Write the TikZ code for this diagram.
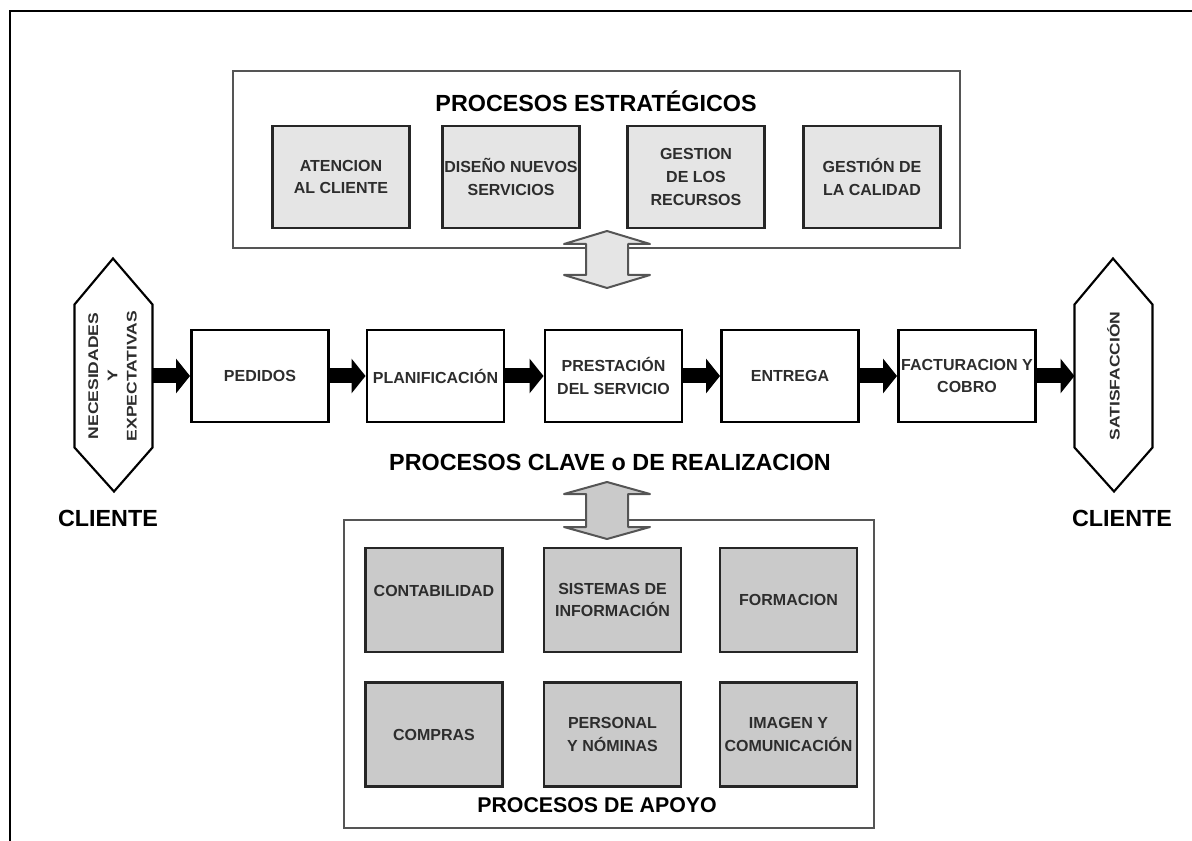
\documentclass[tikz,border=0pt]{standalone}
\usepackage{fontspec}
\setmainfont{Liberation Sans}
\usetikzlibrary{arrows.meta}

\definecolor{textogris}{RGB}{45,45,45}
\definecolor{grisclaro}{RGB}{229,229,229}
\definecolor{grismedio}{RGB}{202,202,202}
\definecolor{bordegris}{RGB}{85,85,85}

\tikzset{every picture/.style={line width=0.75pt}}

\begin{document}
\begin{tikzpicture}[x=0.75pt,y=0.75pt,yscale=-1,xscale=1,
  proceso/.style={draw, line width=2.2pt, minimum width=137*0.75pt, minimum height=92*0.75pt,
    inner sep=1pt, align=center, text=textogris, font=\fontsize{12}{17}\selectfont\bfseries},
  estrategico/.style={proceso, draw=black!85, fill=grisclaro, minimum height=102*0.75pt},
  apoyo/.style={proceso, draw=black!85, fill=grismedio, minimum height=104*0.75pt},
  hexcuerpo/.style={minimum width=77*0.75pt, minimum height=142*0.75pt, inner sep=0pt,
    text=textogris, font=\fontsize{10.5}{14.5}\selectfont\bfseries},
  hexborde/.style={draw, line width=1.6pt, line join=miter},
  marco/.style={draw=bordegris, line width=1.8pt},
  flecha/.style={line width=11.25pt, -{Triangle[length=10.5pt, width=25.5pt]}},
  dobleflecha/.style={draw=bordegris, line width=1.5pt, line join=round},
  titulo/.style={font=\fontsize{17.5}{20}\selectfont\bfseries}
]
%set diagram to the size of the page
\useasboundingbox (0,0) rectangle (1192,841);

%Straight Lines [id:frame]
\draw [line width=1.5pt]  (10,841) -- (10,11) -- (1192,11) ;

%Shape: Rectangle [id:estrategicos]
\draw [marco]  (233,71) -- (960,71) -- (960,248) -- (233,248) -- cycle ;
%Shape: Rectangle [id:apoyo]
\draw [marco]  (344,520) -- (874,520) -- (874,828) -- (344,828) -- cycle ;

% Text Node
\node [titulo] (tEst) at (596,101) {PROCESOS ESTRATÉGICOS};
% Text Node
\node [estrategico] (aten) at (341,177) {ATENCION\\AL CLIENTE};
% Text Node
\node [estrategico] (dise) at (511,177) {DISEÑO NUEVOS\\SERVICIOS};
% Text Node
\node [estrategico] (gest) at (696,177) {GESTION\\DE LOS\\RECURSOS};
% Text Node
\node [estrategico] (cal) at (872,177) {GESTIÓN DE\\LA CALIDAD};

%Shape: Up Down Arrow [id:arriba]
\draw [dobleflecha, fill=grisclaro]  (607,231) -- (650,244) -- (628,244) -- (628,275) -- (650,275) -- (607,288) -- (564,275) -- (586,275) -- (586,244) -- (564,244) -- cycle ;

% Text Node
\node [hexcuerpo] (nec) at (113.5,376) {\rotatebox{90}{\scalebox{1.25}[1]{\begin{tabular}{@{}c@{}}NECESIDADES\\Y\\EXPECTATIVAS\end{tabular}}}};
\draw [hexborde]  (nec.north west) -- ++(38.5,-46) -- (nec.north east) -- (nec.south east) -- ++(-38.5,44) -- (nec.south west) -- cycle ;
% Text Node
\node [hexcuerpo] (sat) at (1113.5,376) {\rotatebox{90}{\scalebox{1.25}[1]{SATISFACCIÓN}}};
\draw [hexborde]  (sat.north west) -- ++(38.5,-46) -- (sat.north east) -- (sat.south east) -- ++(-38.5,44) -- (sat.south west) -- cycle ;

% Text Node
\node [proceso] (ped) at (260,376) {PEDIDOS};
% Text Node
\node [proceso] (plan) at (435.5,376) {PLANIFICACIÓN};
% Text Node
\node [proceso] (prest) at (613.5,376) {PRESTACIÓN\\DEL SERVICIO};
% Text Node
\node [proceso] (entr) at (790,376) {ENTREGA};
% Text Node
\node [proceso] (fact) at (967,376) {FACTURACION Y\\COBRO};

%Straight Lines [id:flujo]
\draw [flecha]  (nec.east) -- (ped.west) ;
\draw [flecha]  (ped.east) -- (plan.west) ;
\draw [flecha]  (plan.east) -- (prest.west) ;
\draw [flecha]  (prest.east) -- (entr.west) ;
\draw [flecha]  (entr.east) -- (fact.west) ;
\draw [flecha]  (fact.east) -- (sat.west) ;

% Text Node
\node [titulo] (tClave) at (610,462) {PROCESOS CLAVE o DE REALIZACION};
% Text Node
\node [titulo] (cliL) at (108,518) {CLIENTE};
% Text Node
\node [titulo] (cliR) at (1122,518) {CLIENTE};

%Shape: Up Down Arrow [id:abajo]
\draw [dobleflecha, fill=grismedio]  (607,482) -- (650,494) -- (628,494) -- (628,527) -- (650,527) -- (607,539) -- (564,527) -- (586,527) -- (586,494) -- (564,494) -- cycle ;

% Text Node
\node [apoyo, text depth=14pt] (cont) at (434,600) {CONTABILIDAD};
% Text Node
\node [apoyo] (sist) at (612.5,600) {SISTEMAS DE\\INFORMACIÓN};
% Text Node
\node [apoyo] (form) at (788.5,600) {FORMACION};
% Text Node
\node [apoyo] (comp) at (434,734.5) {COMPRAS};
% Text Node
\node [apoyo] (pers) at (612.5,734.5) {PERSONAL\\Y NÓMINAS};
% Text Node
\node [apoyo] (imag) at (788.5,734.5) {IMAGEN Y\\COMUNICACIÓN};
% Text Node
\node [titulo, font=\fontsize{16}{18}\selectfont\bfseries] (tApoyo) at (597,805) {PROCESOS DE APOYO};

\end{tikzpicture}
\end{document}
